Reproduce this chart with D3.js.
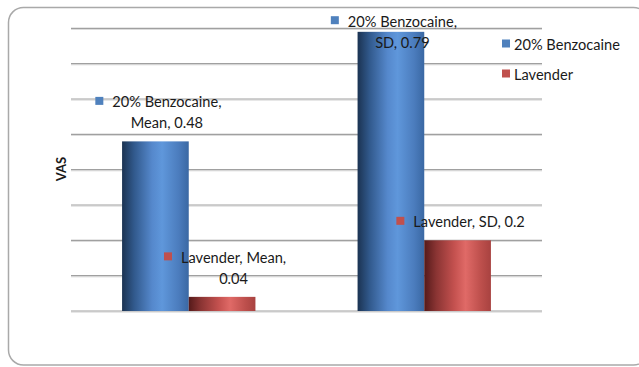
<!DOCTYPE html>
<html>
<head>
<meta charset="utf-8">
<script src="https://cdn.jsdelivr.net/npm/d3@7"></script>
<style>
  html, body { margin: 0; padding: 0; background: #fff; }
  svg { display: block; }
  text { font-family: Lato, "Open Sans", sans-serif; fill: #1a1a1a; }
</style>
</head>
<body>
<svg id="chart" width="639" height="367"></svg>
<script>
// VAS scores by statistic for the two treatments
const categories = ["Mean", "SD"];
const seriesNames = ["20% Benzocaine", "Lavender"];
const benzocaineValues = [0.48, 0.79];
const lavenderValues = [0.04, 0.2];
const gridTicks = [0, 0.1, 0.2, 0.3, 0.4, 0.5, 0.6, 0.7, 0.8];
const axisTitle = "VAS";

const seriesValues = [benzocaineValues, lavenderValues];
const keyColors = ["#4f81bd", "#c0504d"];

const svg = d3.select("#chart");
const plot = { left: 71, right: 542, top: 28.3, bottom: 311 };
const fontSize = 14.6;

// Gradients give the bars their rounded, cylinder-like shading
const defs = svg.append("defs");
const gradStops = [
  [["0%", "#1b3352"], ["18%", "#31598c"], ["45%", "#5588cc"], ["60%", "#5f97db"], ["85%", "#4b7cbd"], ["100%", "#3a68a3"]],
  [["0%", "#551a1a"], ["18%", "#8a3433"], ["45%", "#c4514f"], ["62%", "#e06a67"], ["85%", "#bd4f4c"], ["100%", "#a84240"]]
];
gradStops.forEach((stops, i) => {
  const g = defs.append("linearGradient").attr("id", "barGrad" + i)
    .attr("x1", "0%").attr("x2", "100%").attr("y1", "0%").attr("y2", "0%");
  stops.forEach(([o, c]) => g.append("stop").attr("offset", o).attr("stop-color", c));
});

// Chart frame with rounded corners
svg.append("rect")
  .attr("x", 8.5).attr("y", 7.5)
  .attr("width", 640).attr("height", 357.5)
  .attr("rx", 15).attr("ry", 15)
  .attr("fill", "#fff")
  .attr("stroke", "#a9a9a9").attr("stroke-width", 1.5);

const x0 = d3.scaleBand().domain(categories).range([plot.left, plot.right]).paddingInner(0).paddingOuter(0);
const x1 = d3.scaleBand().domain(seriesNames).range([0, x0.bandwidth()]).paddingInner(0).paddingOuter(0.766);
const y = d3.scaleLinear().domain([0, 0.8]).range([plot.bottom, plot.top]);

// Horizontal gridlines with a faint lower edge
const grid = svg.append("g");
grid.selectAll("line.shade").data(gridTicks).join("line")
  .attr("class", "shade")
  .attr("x1", plot.left).attr("x2", plot.right)
  .attr("y1", d => y(d) + 1.2).attr("y2", d => y(d) + 1.2)
  .attr("stroke", "#dcdcdc").attr("stroke-width", 1);
grid.selectAll("line.main").data(gridTicks).join("line")
  .attr("class", "main")
  .attr("x1", plot.left).attr("x2", plot.right)
  .attr("y1", d => y(d)).attr("y2", d => y(d))
  .attr("stroke", "#a0a0a0").attr("stroke-width", 1.2);

// Bars
const bars = [];
categories.forEach((c, ci) => {
  seriesNames.forEach((s, si) => {
    bars.push({ category: c, series: s, si, value: seriesValues[si][ci] });
  });
});

svg.append("g").selectAll("rect").data(bars).join("rect")
  .attr("x", d => x0(d.category) + x1(d.series))
  .attr("y", d => y(d.value))
  .attr("width", x1.bandwidth())
  .attr("height", d => y(0) - y(d.value))
  .attr("fill", d => `url(#barGrad${d.si})`);

// Axis title
svg.append("text")
  .attr("transform", `translate(${66}, ${169}) rotate(-90)`)
  .attr("text-anchor", "middle")
  .attr("font-size", 13).attr("font-weight", "bold")
  .text(axisTitle);

// Data labels: legend key + "series, category, value", wrapped
const measure = svg.append("text").attr("font-size", fontSize).attr("visibility", "hidden");
function textWidth(t) { measure.text(t); return measure.node().getComputedTextLength(); }
function wrap(t, maxW) {
  const words = t.split(" ");
  const lines = [];
  let cur = "";
  words.forEach(w => {
    const trial = cur ? cur + " " + w : w;
    if (cur && textWidth(trial) > maxW) { lines.push(cur); cur = w; }
    else cur = trial;
  });
  lines.push(cur);
  return lines;
}

const lineGap = 21, keySize = 8, keyGap = 9;
const labels = svg.append("g");
bars.forEach(d => {
  const label = `${d.series}, ${d.category}, ${d.value}`;
  const lines = wrap(label, 130);
  const cx = x0(d.category) + x1(d.series) + x1.bandwidth() / 2 + 3;
  const w0 = textWidth(lines[0]);
  const groupW = keySize + keyGap + w0;
  const keyX = cx - groupW / 2;
  const textX = keyX + keySize + keyGap;
  const textCx = textX + w0 / 2;
  let firstY = y(d.value) - 18 - lineGap * (lines.length - 1);
  firstY = Math.max(firstY, 21.7);
  labels.append("rect")
    .attr("x", keyX).attr("y", firstY - keySize / 2 - 1.5)
    .attr("width", keySize).attr("height", keySize)
    .attr("fill", keyColors[d.si]);
  lines.forEach((ln, i) => {
    labels.append("text")
      .attr("x", i === 0 ? textX : textCx)
      .attr("y", firstY + i * lineGap)
      .attr("dy", "0.35em")
      .attr("text-anchor", i === 0 ? "start" : "middle")
      .attr("font-size", fontSize)
      .text(ln);
  });
});
measure.remove();

// Legend
const legend = svg.append("g").attr("transform", "translate(502, 45)");
seriesNames.forEach((s, i) => {
  const row = legend.append("g").attr("transform", `translate(0, ${i * 30})`);
  row.append("rect").attr("x", 0).attr("y", -5.5).attr("width", keySize).attr("height", keySize)
    .attr("fill", keyColors[i]);
  row.append("text").attr("x", 12).attr("y", 0).attr("dy", "0.35em")
    .attr("font-size", fontSize).text(s);
});
</script>
</body>
</html>
